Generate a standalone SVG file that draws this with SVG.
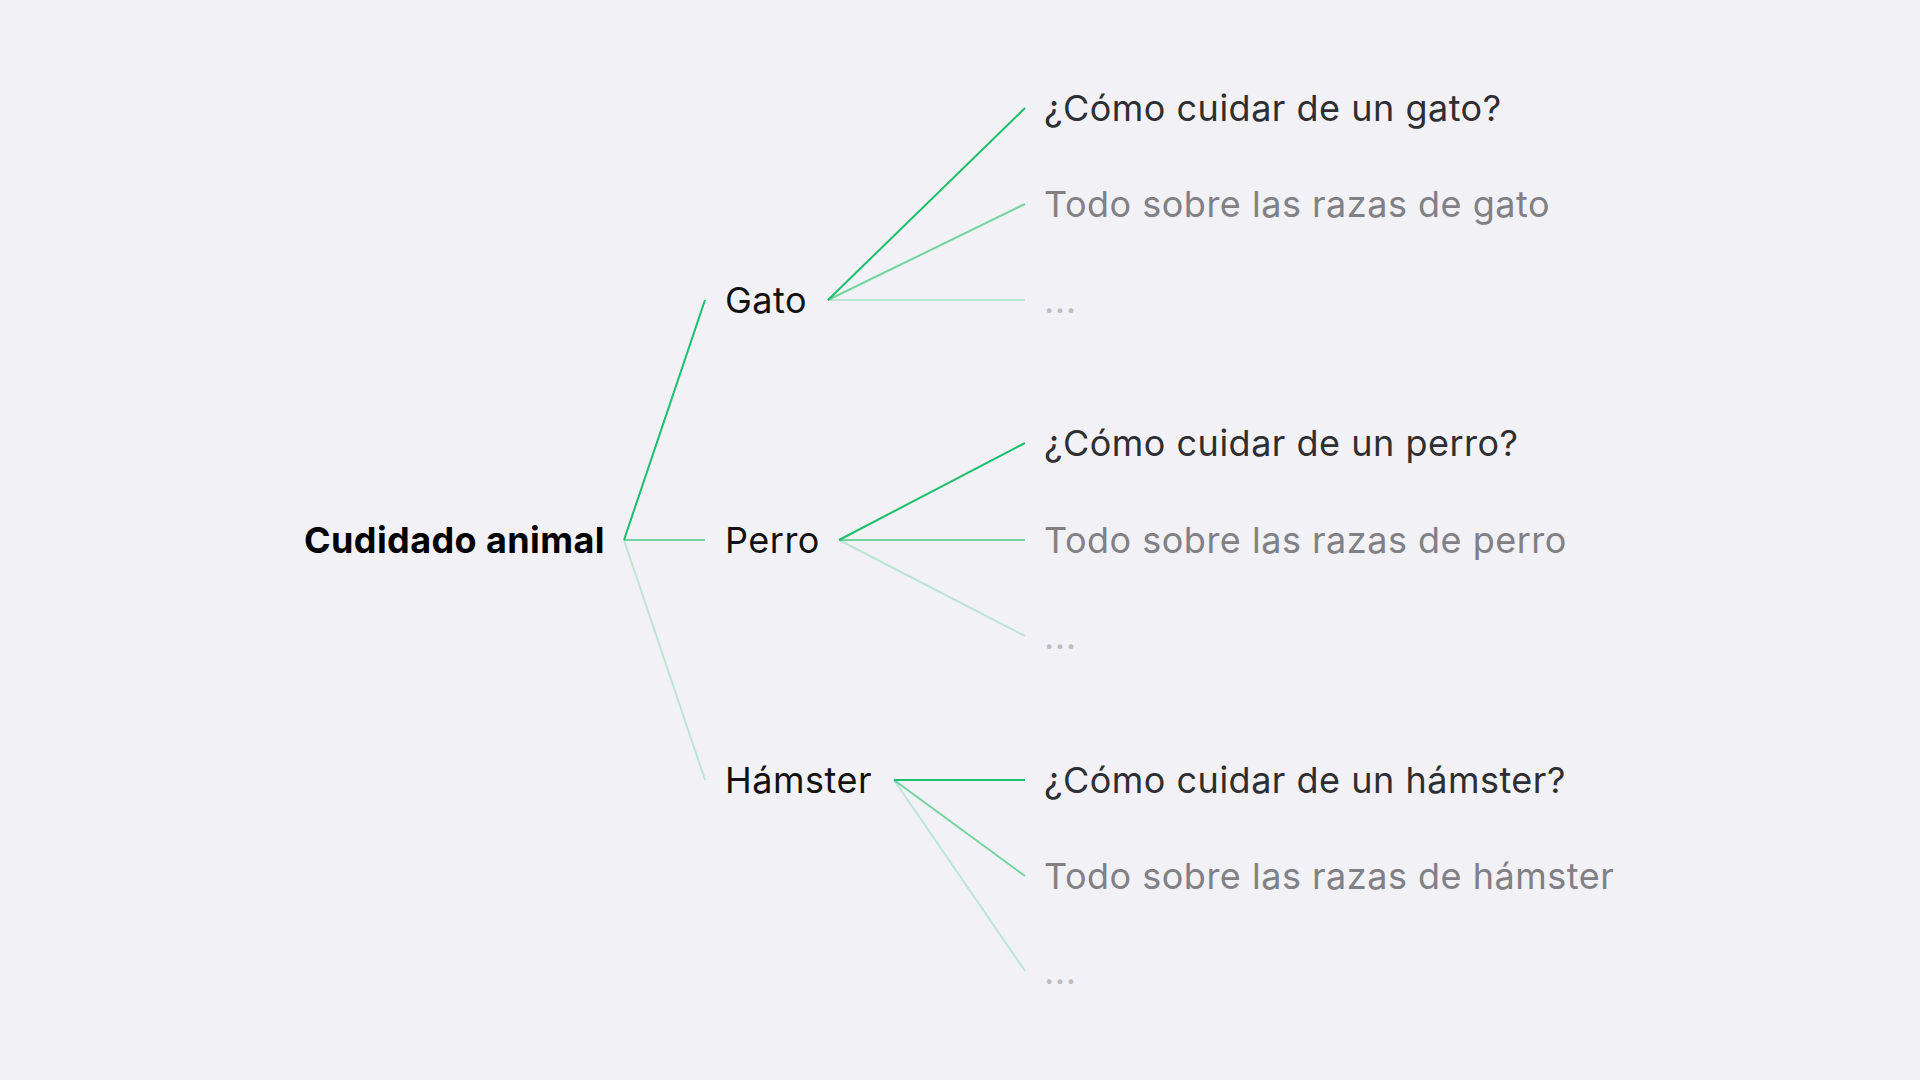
<svg xmlns="http://www.w3.org/2000/svg" width="1920" height="1080" viewBox="0 0 1920 1080">
<style>
text{font-family:Inter,"Noto Sans","Liberation Sans",sans-serif;font-size:36px;letter-spacing:0.5px}
.root{font-weight:700;fill:#000;letter-spacing:0.4px}
.l1{fill:#111}
.q{fill:#2e2e33}
.r{fill:#808085}
.d{fill:#bdbdc2}
.e{stroke:#1cbf6b;stroke-width:2;fill:none}
.s{stroke-opacity:1}
.m{stroke-opacity:0.6}
.w{stroke-opacity:0.25}
</style>
<rect width="1920" height="1080" fill="#f2f2f6"/>
<g id="connectors">
<line class="e s" x1="624" y1="540" x2="705" y2="300"/>
<line class="e m" x1="624" y1="540" x2="705" y2="540"/>
<line class="e w" x1="624" y1="540" x2="705" y2="780"/>
<line class="e s" x1="828" y1="300" x2="1025" y2="108"/>
<line class="e m" x1="828" y1="300" x2="1025" y2="204"/>
<line class="e w" x1="828" y1="300" x2="1025" y2="300"/>
<line class="e s" x1="839" y1="540" x2="1025" y2="443"/>
<line class="e m" x1="839" y1="540" x2="1025" y2="540"/>
<line class="e w" x1="839" y1="540" x2="1025" y2="636"/>
<line class="e s" x1="894" y1="780" x2="1025" y2="780"/>
<line class="e m" x1="894" y1="780" x2="1025" y2="876"/>
<line class="e w" x1="894" y1="780" x2="1025" y2="971"/>
</g>
<g id="root"><text class="root" x="304" y="553">Cudidado animal</text></g>
<g id="gato"><text class="l1" x="725" y="313">Gato</text></g>
<g id="perro"><text class="l1" x="725" y="553">Perro</text></g>
<g id="hamster"><text class="l1" x="725" y="793">Hámster</text></g>
<g id="gato-1"><text class="q" x="1044" y="121">¿Cómo cuidar de un gato?</text></g>
<g id="gato-2"><text class="r" x="1044" y="217">Todo sobre las razas de gato</text></g>
<g id="gato-3"><text class="d" x="1044" y="313">...</text></g>
<g id="perro-1"><text class="q" x="1044" y="456">¿Cómo cuidar de un perro?</text></g>
<g id="perro-2"><text class="r" x="1044" y="553">Todo sobre las razas de perro</text></g>
<g id="perro-3"><text class="d" x="1044" y="649">...</text></g>
<g id="hamster-1"><text class="q" x="1044" y="793">¿Cómo cuidar de un hámster?</text></g>
<g id="hamster-2"><text class="r" x="1044" y="889">Todo sobre las razas de hámster</text></g>
<g id="hamster-3"><text class="d" x="1044" y="984">...</text></g>
</svg>
